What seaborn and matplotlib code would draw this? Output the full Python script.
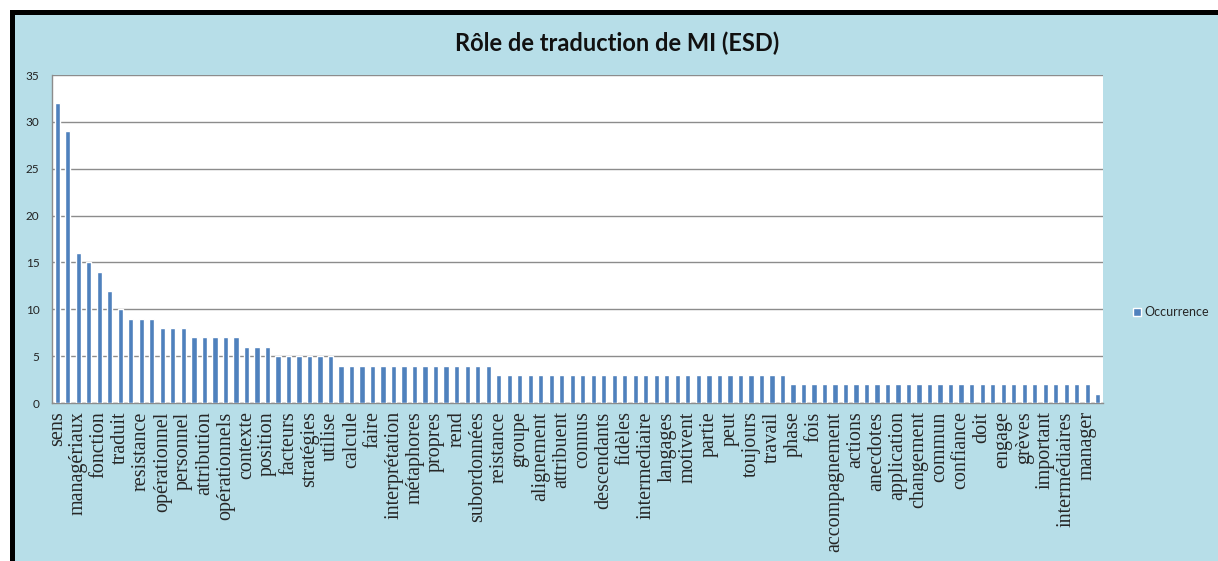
import matplotlib
matplotlib.use("Agg")
import matplotlib.pyplot as plt
from matplotlib.patches import Rectangle
from matplotlib.ticker import FixedLocator
import seaborn as sns
import pandas as pd
import numpy as np

# Occurrences, one per word (100 words, only one in two is labelled on the axis)
occurrence = (
    [32, 29, 16, 15, 14, 12, 10]
    + [9] * 3 + [8] * 3 + [7] * 5 + [6] * 3 + [5] * 6
    + [4] * 15 + [3] * 28 + [2] * 29 + [1]
)

mots_affiches = [
    "sens", "managériaux", "fonction", "traduit", "resistance", "opérationnel",
    "personnel", "attribution", "opérationnels", "contexte", "position",
    "facteurs", "stratégies", "utilise", "calcule", "faire", "interprétation",
    "métaphores", "propres", "rend", "subordonnées", "reistance", "groupe",
    "alignement", "attribuent", "connus", "descendants", "fidèles",
    "intermediaire", "langages", "motivent", "partie", "peut", "toujours",
    "travail", "phase", "fois", "accompagnement", "actions", "anecdotes",
    "application", "changement", "commun", "confiance", "doit", "engage",
    "grèves", "important", "intermédiaires", "manager",
]

y_ticks = [0, 5, 10, 15, 20, 25, 30, 35]

BLEU_FOND = "#B7DEE8"
BLEU_BARRE = "#4F81BD"
GRIS = "#8C8C8C"

df = pd.DataFrame({"rang": np.arange(len(occurrence)), "occurrence": occurrence})

sns.set_style("white")
plt.rcParams["font.family"] = ["Lato", "DejaVu Sans"]

W, H = 1218, 561
fig = plt.figure(figsize=(W / 100, H / 100), dpi=100)
fig.patch.set_facecolor("white")

# cadre noir + fond bleu
fig.patches.append(Rectangle((10 / W, 0), 1 - 10 / W, 1 - 10 / H,
                             transform=fig.transFigure, facecolor="black",
                             edgecolor="none", zorder=-3))
fig.patches.append(Rectangle((15 / W, 0), 1 - 15 / W, 1 - 15 / H,
                             transform=fig.transFigure, facecolor=BLEU_FOND,
                             edgecolor="none", zorder=-2))

ax = fig.add_axes([52 / W, 1 - 403 / H, (1103 - 52) / W, (403 - 75) / H])
ax.set_facecolor("white")

sns.barplot(data=df, x="rang", y="occurrence", color=BLEU_BARRE, width=0.5,
            saturation=1, label="Occurrence", ax=ax, zorder=3)

ax.set_ylim(0, 35)
ax.set_xlim(-0.5, len(occurrence) - 0.5)
ax.set_yticks(y_ticks)
ax.set_yticklabels([str(v) for v in y_ticks], fontsize=8.5, color="#222222")
ax.yaxis.grid(True, color=GRIS, linewidth=1, zorder=0)
ax.set_axisbelow(True)

ax.set_xticks(np.arange(0, len(occurrence), 2))
ax.set_xticklabels(mots_affiches, rotation=90, fontsize=14.5,
                   family=["Liberation Serif", "DejaVu Serif"])
ax.tick_params(axis="x", which="major", length=0, pad=6)
ax.xaxis.set_minor_locator(FixedLocator(np.arange(-0.5, len(occurrence), 1)))
ax.tick_params(axis="x", which="minor", length=5, color=GRIS, width=1)
ax.tick_params(axis="y", length=5, color=GRIS, width=1, pad=4)

for s in ["top", "right"]:
    ax.spines[s].set_visible(False)
for s in ["left", "bottom"]:
    ax.spines[s].set_color(GRIS)
    ax.spines[s].set_linewidth(1)

ax.set_xlabel("")
ax.set_ylabel("")

fig.text(617 / W, 1 - 43 / H, "Rôle de traduction de MI (ESD)",
         ha="center", va="center", fontsize=17, fontweight="bold",
         color="#111111")

ax.legend(loc="center left", bbox_to_anchor=(1122 / W, 1 - 312 / H),
          bbox_transform=fig.transFigure, frameon=False, fontsize=9,
          handlelength=0.6, handleheight=0.6, handletextpad=0.3)

fig.savefig("out.png", dpi=100)
